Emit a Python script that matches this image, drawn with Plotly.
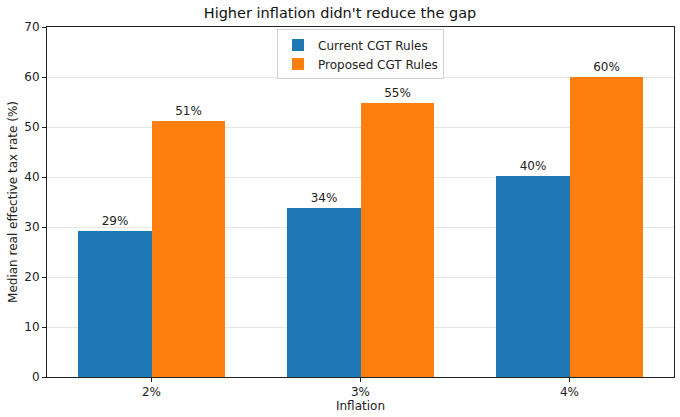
import plotly.graph_objects as go

categories = ["2%", "3%", "4%"]
current_cgt = [29.3, 33.8, 40.3]
proposed_cgt = [51.2, 54.9, 60.0]
x_pos = [0, 1, 2]
bar_w = 0.35

fig = go.Figure()
fig.add_trace(
    go.Bar(
        x=x_pos,
        y=current_cgt,
        width=bar_w,
        offset=-bar_w,
        name="Current CGT Rules",
        marker=dict(color="#1f77b4", line=dict(width=0)),
        texttemplate="%{y:.0f}%",
        textposition="outside",
        textfont=dict(size=12, color="#222"),
        cliponaxis=False,
    )
)
fig.add_trace(
    go.Bar(
        x=x_pos,
        y=proposed_cgt,
        width=bar_w,
        offset=0,
        name="Proposed CGT Rules",
        marker=dict(color="#ff7f0e", line=dict(width=0)),
        texttemplate="%{y:.0f}%",
        textposition="outside",
        textfont=dict(size=12, color="#222"),
        cliponaxis=False,
    )
)

fig.update_layout(
    width=680,
    height=417,
    margin=dict(l=47, r=6, t=27, b=40, autoexpand=False),
    paper_bgcolor="white",
    plot_bgcolor="white",
    font=dict(family="DejaVu Sans", size=12, color="#222"),
    title=dict(
        text="Higher inflation didn't reduce the gap",
        x=0.5, xanchor="center", y=0.97, yanchor="middle",
        font=dict(size=14.5, color="#111"),
    ),
    legend=dict(
        x=0.5, xanchor="center", y=0.993, yanchor="top",
        bgcolor="rgba(255,255,255,0.9)",
        bordercolor="#d0d0d0", borderwidth=1,
        font=dict(size=12),
        traceorder="normal",
    ),
    bargap=0,
    showlegend=True,
)
fig.update_xaxes(
    range=[-0.5, 2.5],
    tickvals=x_pos,
    ticktext=categories,
    tickfont=dict(size=12),
    title=dict(text="Inflation", standoff=2, font=dict(size=12)),
    showgrid=False,
    showline=True, linecolor="#222", linewidth=1, mirror=True,
    ticks="outside", ticklen=4, tickcolor="#222",
    zeroline=False,
)
fig.update_yaxes(
    range=[0, 70],
    dtick=10,
    tickfont=dict(size=12),
    title=dict(text="Median real effective tax rate (%)", standoff=4, font=dict(size=12)),
    showgrid=True, gridcolor="rgba(176,176,176,0.3)", gridwidth=1,
    showline=True, linecolor="#222", linewidth=1, mirror=True,
    ticks="outside", ticklen=4, tickcolor="#222",
    zeroline=False,
)

fig.write_html(
    "out.html",
    config={"displayModeBar": False},
    post_script="document.body.style.margin='0';",
)
